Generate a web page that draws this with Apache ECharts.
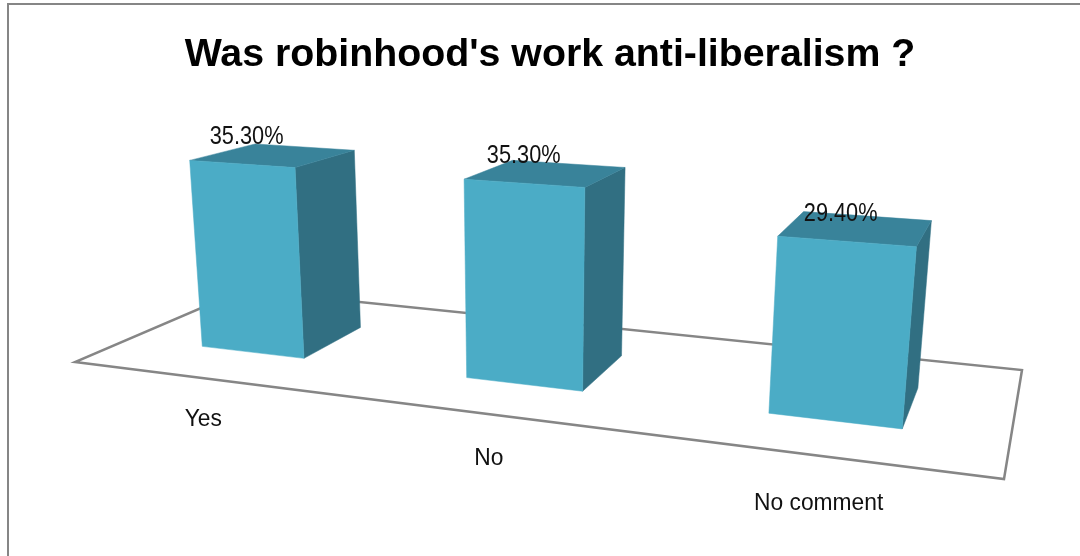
<!DOCTYPE html>
<html>
<head>
<meta charset="utf-8">
<style>html,body{margin:0;padding:0;background:#fff}#c{width:1080px;height:556px}</style>
<script src="https://cdn.jsdelivr.net/npm/echarts@6/dist/echarts.min.js"></script>
</head>
<body>
<div id="c"></div>
<script>
const titleText = "Was robinhood's work anti-liberalism ?";
const categories = ["Yes", "No", "No comment"];
const values = [35.3, 35.3, 29.4];

// Floor corners in pixels -> perspective of the 3D chart floor (unit square)
const A=[75,362], B=[1004,479], C=[1022,370], D=[243,290];
const VP=[530,5200];
const dx1=B[0]-C[0], dy1=B[1]-C[1], dx2=D[0]-C[0], dy2=D[1]-C[1];
const sx=A[0]-B[0]+C[0]-D[0], sy=A[1]-B[1]+C[1]-D[1];
const den=dx1*dy2-dx2*dy1;
const g=(sx*dy2-dx2*sy)/den, h=(dx1*sy-sx*dy1)/den;
const ma=B[0]-A[0]+g*B[0], mb=D[0]-A[0]+h*D[0], mc=A[0];
const md=B[1]-A[1]+g*B[1], me=D[1]-A[1]+h*D[1], mf=A[1];
function floorW(u,v){return 1+g*u+h*v;}
function project(u,v,px){
  const w=floorW(u,v);
  const x=(ma*u+mb*v+mc)/w, y=(md*u+me*v+mf)/w;
  const lift=(px||0)/w;
  const t=(x-VP[0])/(y-VP[1]);
  return [x+t*(-lift), y-lift];
}
const GRID={left:75,width:929,top:100,height:219};
const V0=0.295, V1=0.69, BAR_RATIO=0.4, BAR_SHIFT=-0.0025;

function renderBar(params,api){
  const cat=api.value(0), val=api.value(1);
  const cx=api.coord([cat,0])[0];
  const band=api.size([1,0])[0];
  const hpx=api.size([0,val])[1];
  const uc=(cx-GRID.left)/GRID.width;
  const uw=band*BAR_RATIO/GRID.width/2;
  const u0=uc+BAR_SHIFT-uw, u1=uc+BAR_SHIFT+uw;
  const fl=project(u0,V0,0), fr=project(u1,V0,0), br=project(u1,V1,0);
  const tfl=project(u0,V0,hpx), tfr=project(u1,V0,hpx), tbr=project(u1,V1,hpx), tbl=project(u0,V1,hpx);
  const front=project(uc+BAR_SHIFT,V0,hpx);
  const base=project(uc,0,0);
  const w0=floorW(uc,0);
  const poly=(pts,fill)=>({type:'polygon',shape:{points:pts},style:{fill:fill,stroke:fill,lineWidth:0.5}});
  return {type:'group',children:[
    poly([fr,br,tbr,tfr],'#316F82'),
    poly([tfl,tfr,tbr,tbl],'#39839A'),
    poly([fl,fr,tfr,tfl],'#4BACC6'),
    {type:'text',x:front[0]-(front[0]-530)*0.017,y:front[1]-27,z2:10,scaleX:0.87,
     style:{text:val.toFixed(2)+'%',fontFamily:'"Liberation Sans",Arial,sans-serif',fontSize:25,fill:'#111',align:'center',verticalAlign:'middle'}},
    {type:'text',x:base[0]-0.5,y:base[1]+39.7/w0+0.5,z2:10,scaleX:0.95,
     style:{text:categories[cat],fontFamily:'"Liberation Sans",Arial,sans-serif',fontSize:24,fill:'#111',align:'center',verticalAlign:'middle'}}
  ]};
}

const floorPts=[[0,0],[1,0],[1,1],[0,1]].map(p=>project(p[0],p[1],0));
const chart=echarts.init(document.getElementById('c'),null,{renderer:'canvas'});
chart.setOption({
  animation:false,
  backgroundColor:'#fff',
  title:{text:titleText,left:545,top:31,textAlign:'center',
    textStyle:{fontFamily:'"Liberation Sans",Arial,sans-serif',fontWeight:'bold',fontSize:39.3,color:'#000'}},
  grid:{left:GRID.left,width:GRID.width,top:GRID.top,height:GRID.height},
  xAxis:{type:'category',data:categories,show:false},
  yAxis:{type:'value',min:0,max:40,show:false},
  graphic:[
    {type:'polyline',shape:{points:[[8,560],[8,4],[1084,4]]},style:{fill:null,stroke:'#868686',lineWidth:2}},
    {type:'polygon',shape:{points:floorPts},style:{fill:'#fff',stroke:'#868686',lineWidth:2.5}}
  ],
  series:[{type:'custom',z:5,coordinateSystem:'cartesian2d',renderItem:renderBar,clip:false,
    data:values.map((v,i)=>[i,v])}]
});
</script>
</body>
</html>
